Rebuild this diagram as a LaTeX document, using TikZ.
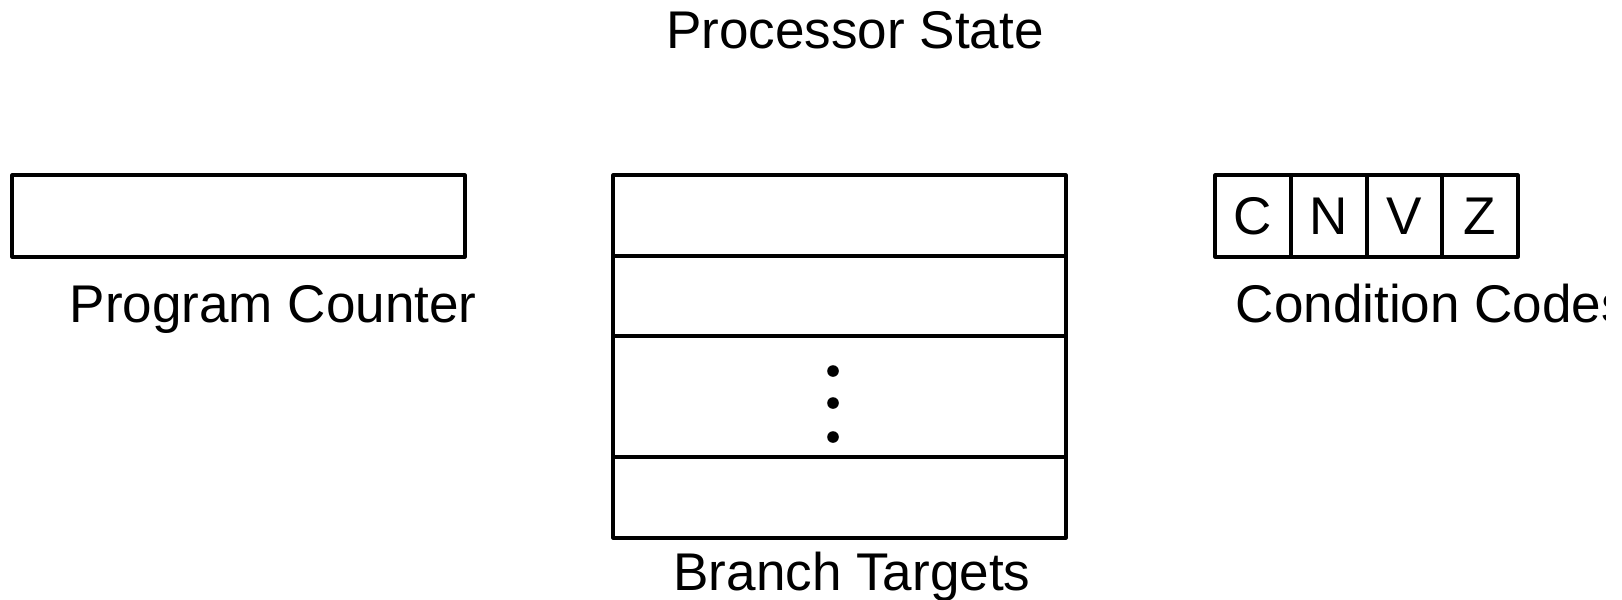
\documentclass[tikz,border=0pt]{standalone}
\usepackage{fontspec}
\setmainfont{Liberation Sans}

\tikzset{
	reg/.style = {draw, line width = 0.9pt, line join = round},
	lbl/.style = {inner sep = 0pt, font = \fontsize{15.1}{18}\selectfont},
}

\begin{document}
\begin{tikzpicture}

	\useasboundingbox (0,0) rectangle (16.22,5.99);

	\node [lbl, anchor = base] (title) at (8.55,5.51) {Processor State};

	% program counter
	\draw [reg] (0.12,4.24) rectangle (4.65,3.42);
	\node [lbl, anchor = base west] (pc) at (0.69,2.77) {Program Counter};

	% branch targets
	\draw [reg] (6.13,4.24) rectangle (10.66,0.61);
	\foreach \y in {3.43, 2.63, 1.42}
		\draw [reg] (6.13,\y) -- (10.66,\y);
	\foreach \y in {2.28, 1.96, 1.62}
		\fill (8.33,\y) circle (0.058);
	\node [lbl, anchor = base] (bt) at (8.52,0.09) {Branch Targets};

	% condition codes
	\foreach \x/\nx/\f in {12.15/12.91/C, 12.91/13.67/N, 13.67/14.42/V, 14.42/15.18/Z} {
		\draw [reg] (\x,4.24) rectangle (\nx,3.42);
		\node [lbl] (cc\f) at ({(\x+\nx)/2},3.83) {\f};
	}
	\begin{scope}
		\clip (0,0) rectangle (16.05,5.99);
		\node [lbl, anchor = base west] (cc) at (12.35,2.77) {Condition Codes};
	\end{scope}

\end{tikzpicture}
\end{document}
